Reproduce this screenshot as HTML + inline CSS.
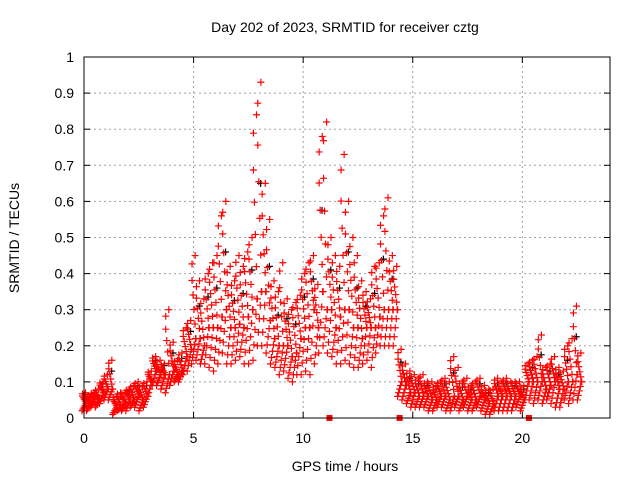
<!DOCTYPE html>
<html><head><meta charset="utf-8"><style>
body{margin:0;background:#fff}
svg{display:block;font-family:"Liberation Sans",sans-serif}
</style></head><body>
<svg id="chart" width="640" height="480">
<text x="345" y="32" text-anchor="middle" font-size="14">Day 202 of 2023, SRMTID for receiver cztg</text>
<text x="345" y="471" text-anchor="middle" font-size="14">GPS time / hours</text>
<text transform="translate(19,238) rotate(-90)" text-anchor="middle" font-size="14">SRMTID / TECUs</text>
<g id="grid"></g><g id="ticks"></g><g id="marks"></g>
<rect x="84" y="57" width="526" height="361" fill="none" stroke="#000" stroke-width="1"/>
</svg>
<script>
const xTicks=[0,5,10,15,20];
const yTicks=[0,0.1,0.2,0.3,0.4,0.5,0.6,0.7,0.8,0.9,1];
const yTickLabels=["0","0.1","0.2","0.3","0.4","0.5","0.6","0.7","0.8","0.9","1"];
const startHour=0, stepHour=0.2;
const hiVals=[0.07,0.06,0.07,0.08,0.1,0.12,0.16,0.06,0.07,0.07,
0.08,0.09,0.1,0.09,0.1,0.13,0.17,0.16,0.15,0.3,
0.21,0.16,0.18,0.25,0.27,0.45,0.38,0.33,0.4,0.43,
0.45,0.56,0.6,0.42,0.38,0.45,0.42,0.46,0.5,0.84,
0.93,0.65,0.55,0.38,0.35,0.43,0.33,0.3,0.32,0.34,
0.4,0.43,0.45,0.37,0.78,0.82,0.5,0.45,0.42,0.73,
0.6,0.5,0.45,0.38,0.35,0.33,0.42,0.43,0.56,0.61,
0.45,0.42,0.19,0.15,0.13,0.12,0.11,0.12,0.1,0.1,
0.09,0.1,0.11,0.1,0.17,0.14,0.1,0.11,0.09,0.1,
0.11,0.09,0.08,0.08,0.11,0.1,0.11,0.1,0.1,0.1,
0.09,0.15,0.16,0.17,0.23,0.14,0.15,0.17,0.14,0.13,
0.2,0.22,0.31,0.18];
const loVals=[0.02,0.02,0.03,0.03,0.04,0.05,0.05,0.01,0.02,0.02,
0.02,0.03,0.03,0.02,0.03,0.06,0.09,0.09,0.08,0.07,
0.09,0.1,0.1,0.12,0.13,0.15,0.16,0.15,0.15,0.14,
0.13,0.15,0.18,0.15,0.15,0.16,0.17,0.15,0.15,0.16,
0.2,0.2,0.18,0.15,0.14,0.12,0.13,0.11,0.1,0.12,
0.12,0.13,0.12,0.15,0.18,0.2,0.18,0.17,0.15,0.15,
0.16,0.15,0.14,0.14,0.15,0.16,0.14,0.18,0.2,0.2,
0.2,0.2,0.06,0.05,0.04,0.03,0.03,0.03,0.03,0.02,
0.02,0.03,0.03,0.02,0.02,0.03,0.02,0.03,0.02,0.02,
0.03,0.02,0.01,0.01,0.02,0.02,0.02,0.02,0.02,0.03,
0.02,0.05,0.05,0.04,0.05,0.04,0.05,0.04,0.03,0.03,
0.05,0.04,0.05,0.05];
const typVals=[0.04,0.04,0.05,0.05,0.07,0.08,0.08,0.03,0.03,0.04,
0.05,0.05,0.06,0.05,0.06,0.1,0.13,0.12,0.12,0.12,
0.13,0.12,0.13,0.17,0.19,0.22,0.22,0.2,0.25,0.25,
0.25,0.28,0.3,0.25,0.25,0.26,0.25,0.28,0.3,0.33,
0.35,0.35,0.27,0.22,0.2,0.2,0.2,0.17,0.18,0.22,
0.25,0.25,0.3,0.25,0.35,0.3,0.3,0.25,0.28,0.3,
0.3,0.25,0.25,0.22,0.25,0.25,0.25,0.28,0.3,0.3,
0.3,0.3,0.1,0.09,0.07,0.07,0.06,0.06,0.06,0.05,
0.05,0.06,0.06,0.05,0.06,0.06,0.05,0.06,0.05,0.05,
0.06,0.05,0.04,0.04,0.06,0.06,0.06,0.06,0.06,0.06,
0.05,0.1,0.1,0.1,0.1,0.08,0.09,0.1,0.08,0.08,
0.1,0.1,0.12,0.1];
const zeroMarks=[11.2,14.4,20.3];

const NS="http://www.w3.org/2000/svg";
const X0=84,X1=610,Y0=418,Y1=57,XMAX=24;
const xs=h=>X0+(h/XMAX)*(X1-X0);
const ys=v=>Y0-v*(Y0-Y1);
function mk(tag,attrs,parent){const e=document.createElementNS(NS,tag);for(const k in attrs)e.setAttribute(k,attrs[k]);parent.appendChild(e);return e;}
const grid=document.getElementById('grid'),ticks=document.getElementById('ticks'),marks=document.getElementById('marks');

yTicks.forEach((v,i)=>{
  const y=ys(v);
  if(i>0&&i<yTicks.length-1){const g=mk('line',{x1:X0,x2:X1,y1:y,y2:y,stroke:'#a0a0a0','stroke-dasharray':'2,3'},grid);
  
  }
  const t=mk('line',{x1:X0,x2:X0+6,y1:y,y2:y,stroke:'#000'},ticks);
  
  
  const t2=mk('line',{x1:X1,x2:X1-6,y1:y,y2:y,stroke:'#000'},ticks);
  
  
  const l=mk('text',{x:X0-10,y:y+5,'text-anchor':'end','font-size':'14'},ticks);
  l.textContent=yTickLabels[i];
  
  
});
xTicks.forEach(h=>{
  const x=xs(h);
  if(h>0){const g=mk('line',{x1:x,x2:x,y1:Y0,y2:Y1,stroke:'#a0a0a0','stroke-dasharray':'2,3'},grid);
  
  }
  const t=mk('line',{x1:x,x2:x,y1:Y0,y2:Y0-6,stroke:'#000'},ticks);
  
  
  const t2=mk('line',{x1:x,x2:x,y1:Y1,y2:Y1+6,stroke:'#000'},ticks);
  
  
  const l=mk('text',{x:x,y:Y0+25,'text-anchor':'middle','font-size':'14'},ticks);
  l.textContent=String(h);
  
  
});

function cross(h,v,color){
  const x=xs(h),y=ys(v);
  const p=mk('path',{d:`M${x-3.5},${y}h7M${x},${y-3.5}v7`,stroke:color,'stroke-width':1.2,fill:'none'},marks);
  
  
}
// black points first (sparse)
typVals.forEach((v,i)=>{
  if(i%2) return;
  const h=startHour+i*stepHour;
  cross(h+0.06,(v+hiVals[i])/2+0.01,'#000');
});
// red points: fill the band between lo and hi, denser near typical
const fr=[0,0.25,0.5,0.75,1];
const offs=[-0.09,-0.045,0,0.045,0.09];
typVals.forEach((v,i)=>{
  const h=startHour+i*stepHour;
  const lo=loVals[i],hi=hiVals[i];
  fr.forEach((f,j)=>cross(h+offs[j],lo+(v-lo)*f,'#ff0000'));
  fr.forEach((f,j)=>cross(h-offs[j]+0.02,v+(hi-v)*f*0.7,'#ff0000'));
  cross(h+0.07,hi,'#ff0000');
  cross(h-0.07,v+(hi-v)*0.9,'#ff0000');
});
zeroMarks.forEach(h=>{
  const r=mk('rect',{x:xs(h)-3,y:Y0-3,width:6,height:6,fill:'#ff0000'},marks);
  
  
});
</script>
</body></html>
